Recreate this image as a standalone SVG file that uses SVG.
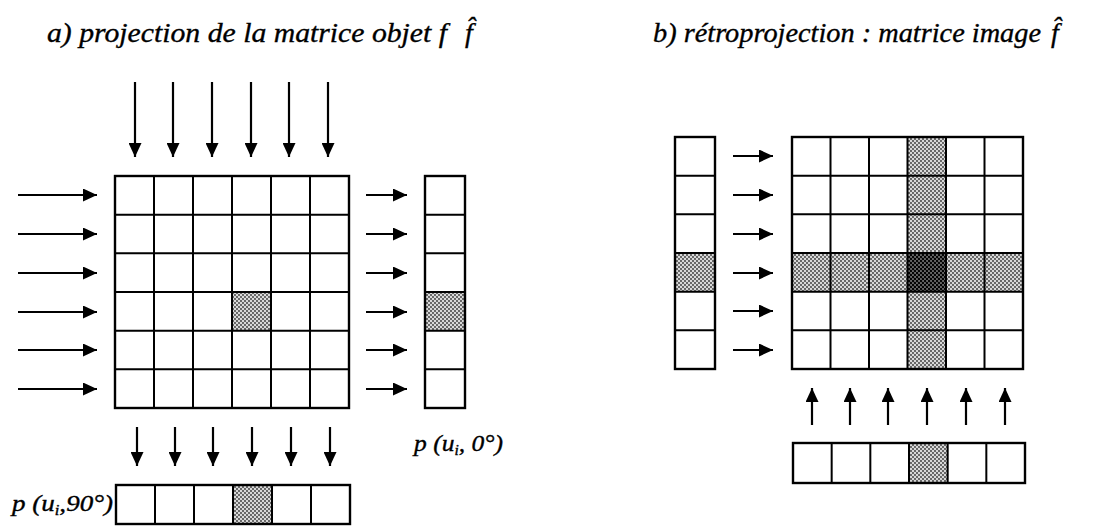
<svg xmlns="http://www.w3.org/2000/svg" width="1102" height="526" viewBox="0 0 1102 526">
<style>
.t{font-family:"Liberation Serif","Times New Roman",serif;font-style:italic;fill:#000;stroke:#000;stroke-width:0.35}
.ttl{font-size:28px}
.lbl{font-size:23px}
.sub{font-size:14px}
.g{fill:none;stroke:#000;stroke-width:2}
.gb{fill:none;stroke:#000;stroke-width:2.4}
.a{stroke:#000;stroke-width:2.2;fill:none;marker-end:url(#ah)}
.s{fill:url(#dots);stroke:none}
.sd{fill:url(#dots2);stroke:none}
</style>
<defs>
<marker id="ah" markerUnits="userSpaceOnUse" markerWidth="14" markerHeight="13" refX="14" refY="6.5" orient="auto">
<path d="M0,0 L14,6.5 L0,13 z" fill="#000"/>
</marker>
<pattern id="dots" patternUnits="userSpaceOnUse" width="4" height="4">
<rect width="4" height="4" fill="#d8d8d8"/>
<circle cx="1" cy="1" r="0.9" fill="#333"/>
<circle cx="3" cy="3" r="0.9" fill="#333"/>
</pattern>
<pattern id="dots2" patternUnits="userSpaceOnUse" width="4" height="4">
<rect width="4" height="4" fill="#666"/>
<circle cx="1" cy="1" r="1.2" fill="#000"/>
<circle cx="3" cy="3" r="1.2" fill="#000"/>
</pattern>
</defs>

<g id="title-a">
<text class="t ttl" x="47" y="42" textLength="400" lengthAdjust="spacingAndGlyphs">a) projection de la matrice objet f</text>
<text class="t ttl" x="465" y="42">f&#x302;</text>
</g>
<g id="title-b">
<text class="t ttl" x="653" y="42" textLength="388" lengthAdjust="spacingAndGlyphs">b) rétroprojection : matrice image</text>
<text class="t ttl" x="1051" y="42">f&#x302;</text>
</g>

<g id="matrix-f">
<rect class="s" x="232" y="292" width="39" height="38.67"/>
<path class="g" d="M154,176V408M193,176V408M232,176V408M271,176V408M310,176V408M115,214.67H349M115,253.33H349M115,292H349M115,330.67H349M115,369.33H349"/>
<rect class="gb" x="115" y="176" width="234" height="232"/>
</g>

<g id="proj-0">
<rect class="s" x="425" y="292" width="40" height="38.67"/>
<path class="g" d="M425,214.67H465M425,253.33H465M425,292H465M425,330.67H465M425,369.33H465"/>
<rect class="gb" x="425" y="176" width="40" height="232"/>
<text class="t lbl" x="414" y="451" textLength="89" lengthAdjust="spacingAndGlyphs">p (u<tspan class="sub" dy="4">i</tspan><tspan dy="-4">, 0°)</tspan></text>
</g>

<g id="proj-90">
<rect class="s" x="233" y="485" width="39" height="39"/>
<path class="g" d="M155,485V524M194,485V524M233,485V524M272,485V524M311,485V524"/>
<rect class="gb" x="116" y="485" width="234" height="39"/>
<text class="t lbl" x="12" y="511" textLength="101" lengthAdjust="spacingAndGlyphs">p (u<tspan class="sub" dy="4">i</tspan><tspan dy="-4">,90°)</tspan></text>
</g>

<g id="proj-col-b">
<rect class="s" x="675" y="253" width="40" height="38.67"/>
<path class="g" d="M675,175.67H715M675,214.33H715M675,253H715M675,291.67H715M675,330.33H715"/>
<rect class="gb" x="675" y="137" width="40" height="232"/>
</g>

<g id="matrix-fhat">
<rect class="s" x="907.5" y="137" width="38.5" height="232"/>
<rect class="s" x="792" y="253" width="231" height="38.67"/>
<rect class="sd" x="907.5" y="253" width="38.5" height="38.67"/>
<path class="g" d="M830.5,137V369M869,137V369M907.5,137V369M946,137V369M984.5,137V369M792,175.67H1023M792,214.33H1023M792,253H1023M792,291.67H1023M792,330.33H1023"/>
<rect class="gb" x="792" y="137" width="231" height="232"/>
</g>

<g id="proj-row-b">
<rect class="s" x="909" y="443" width="38.67" height="40"/>
<path class="g" d="M831.67,443V483M870.33,443V483M909,443V483M947.67,443V483M986.33,443V483"/>
<rect class="gb" x="793" y="443" width="232" height="40"/>
</g>

<g id="connectors">
<line class="a" x1="135" y1="82" x2="135" y2="157"/>
<line class="a" x1="173" y1="82" x2="173" y2="157"/>
<line class="a" x1="212" y1="82" x2="212" y2="157"/>
<line class="a" x1="251" y1="82" x2="251" y2="157"/>
<line class="a" x1="289" y1="82" x2="289" y2="157"/>
<line class="a" x1="328" y1="82" x2="328" y2="157"/>

<line class="a" x1="18" y1="195" x2="97" y2="195"/>
<line class="a" x1="18" y1="234" x2="97" y2="234"/>
<line class="a" x1="18" y1="273" x2="97" y2="273"/>
<line class="a" x1="18" y1="312" x2="97" y2="312"/>
<line class="a" x1="18" y1="350" x2="97" y2="350"/>
<line class="a" x1="18" y1="389" x2="97" y2="389"/>

<line class="a" x1="366" y1="195" x2="407" y2="195"/>
<line class="a" x1="366" y1="234" x2="407" y2="234"/>
<line class="a" x1="366" y1="273" x2="407" y2="273"/>
<line class="a" x1="366" y1="312" x2="407" y2="312"/>
<line class="a" x1="366" y1="350" x2="407" y2="350"/>
<line class="a" x1="366" y1="389" x2="407" y2="389"/>

<line class="a" x1="137" y1="427" x2="137" y2="466"/>
<line class="a" x1="175" y1="427" x2="175" y2="466"/>
<line class="a" x1="213" y1="427" x2="213" y2="466"/>
<line class="a" x1="252" y1="427" x2="252" y2="466"/>
<line class="a" x1="291" y1="427" x2="291" y2="466"/>
<line class="a" x1="330" y1="427" x2="330" y2="466"/>

<line class="a" x1="733" y1="156" x2="773" y2="156"/>
<line class="a" x1="733" y1="195" x2="773" y2="195"/>
<line class="a" x1="733" y1="234" x2="773" y2="234"/>
<line class="a" x1="733" y1="273" x2="773" y2="273"/>
<line class="a" x1="733" y1="311" x2="773" y2="311"/>
<line class="a" x1="733" y1="350" x2="773" y2="350"/>

<line class="a" x1="812" y1="425" x2="812" y2="388"/>
<line class="a" x1="850" y1="425" x2="850" y2="388"/>
<line class="a" x1="888" y1="425" x2="888" y2="388"/>
<line class="a" x1="927" y1="425" x2="927" y2="388"/>
<line class="a" x1="966" y1="425" x2="966" y2="388"/>
<line class="a" x1="1005" y1="425" x2="1005" y2="388"/>
</g>
</svg>
